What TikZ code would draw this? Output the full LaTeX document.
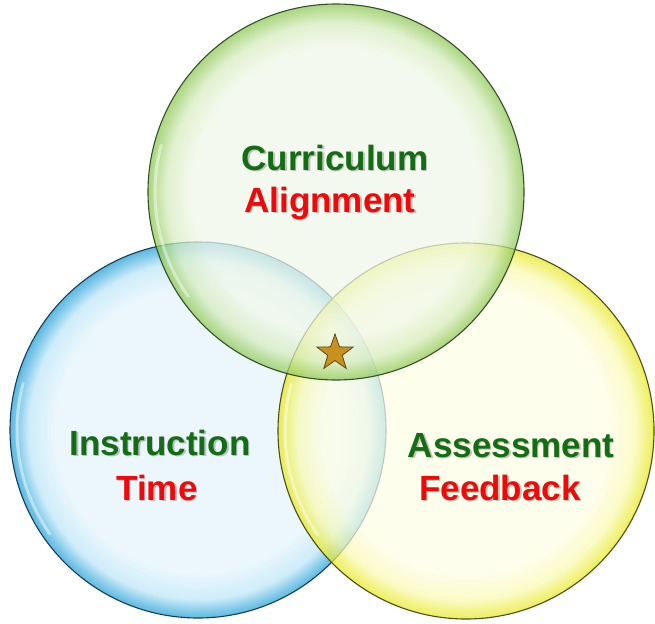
\documentclass[tikz,border=0pt]{standalone}
\usepackage{fontspec}
\setmainfont{Liberation Sans}
\usetikzlibrary{shapes.geometric}
\definecolor{gIn}{HTML}{F1F8E9}
\definecolor{gMid}{HTML}{D6ECBE}
\definecolor{gOut}{HTML}{8CC850}
\definecolor{bIn}{HTML}{E4F4FC}
\definecolor{bMid}{HTML}{BCE6F8}
\definecolor{bOut}{HTML}{1E9ED6}
\definecolor{yIn}{HTML}{FEFEE6}
\definecolor{yMid}{HTML}{FAFAB0}
\definecolor{yOut}{HTML}{E8E820}
\definecolor{gLine}{HTML}{34502A}
\definecolor{bLine}{HTML}{163E58}
\definecolor{yLine}{HTML}{4E4E18}
\definecolor{tGreen}{HTML}{146C14}
\definecolor{tRed}{HTML}{EE0A0A}
\definecolor{starFill}{HTML}{C8901C}
\definecolor{starLine}{HTML}{5A4620}
\pgfdeclareradialshading{glassG}{\pgfpoint{0bp}{0bp}}{color(0bp)=(gIn); color(19bp)=(gIn); color(22.5bp)=(gMid); color(24.2bp)=(gOut!70!gMid); color(25bp)=(gOut); color(50bp)=(gOut)}
\pgfdeclareradialshading{glassB}{\pgfpoint{0bp}{0bp}}{color(0bp)=(bIn); color(19bp)=(bIn); color(22.5bp)=(bMid); color(24.2bp)=(bOut!70!bMid); color(25bp)=(bOut); color(50bp)=(bOut)}
\pgfdeclareradialshading{glassY}{\pgfpoint{0bp}{0bp}}{color(0bp)=(yIn); color(19bp)=(yIn); color(22.5bp)=(yMid); color(24.2bp)=(yOut!70!yMid); color(25bp)=(yOut); color(50bp)=(yOut)}
\tikzset{
  ring/.style={circle, minimum size=376pt, inner sep=0pt, shade, fill opacity=0.72, draw opacity=1, line width=1.1pt},
  shine/.style={white, line width=3pt, opacity=0.45, line cap=round},
  lbl/.style={font=\fontsize{35}{40}\selectfont\bfseries, anchor=base, inner sep=0pt},
  lblshadow/.style={lbl, text=black, text opacity=0.22},
}
\begin{document}
\begin{tikzpicture}[x=1pt,y=-1pt]
\useasboundingbox (0,0) rectangle (655,623);
\fill[white] (0,0) rectangle (655,623);
% circles
\node[ring, shading=glassB, draw=bLine] (blue) at (198,430) {};
\node[ring, shading=glassY, draw=yLine] (yellow) at (466,431) {};
\node[ring, shading=glassG, draw=gLine] (green) at (336,192) {};
% highlights
\draw[shine] (green.center) ++(145:181) arc[start angle=145, end angle=195, radius=181];
\draw[shine] (blue.center) ++(145:181) arc[start angle=145, end angle=195, radius=181];
\draw[shine] (yellow.center) ++(145:181) arc[start angle=145, end angle=195, radius=181];
% star
\node[star, star points=5, star point ratio=2.5, minimum size=38pt, inner sep=0pt,
      fill=starFill, draw=starLine, line width=0.8pt] (core) at (335,353) {};
% labels
\node[lblshadow] (curS) at (336.5,171.5) {Curriculum};
\node[lbl, text=tGreen] (cur) at (335,170) {Curriculum};
\node[lblshadow] (aliS) at (331.5,213.5) {Alignment};
\node[lbl, text=tRed] (ali) at (330,212) {Alignment};
\node[lblshadow] (insS) at (161.5,456.5) {Instruction};
\node[lbl, text=tGreen] (ins) at (160,455) {Instruction};
\node[lblshadow] (timS) at (158.5,501.5) {Time};
\node[lbl, text=tRed] (tim) at (157,500) {Time};
\node[lblshadow] (assS) at (512.5,458.5) {Assessment};
\node[lbl, text=tGreen] (ass) at (511,457) {Assessment};
\node[lblshadow] (feeS) at (501.5,501.5) {Feedback};
\node[lbl, text=tRed] (fee) at (500,500) {Feedback};
\end{tikzpicture}
\end{document}
